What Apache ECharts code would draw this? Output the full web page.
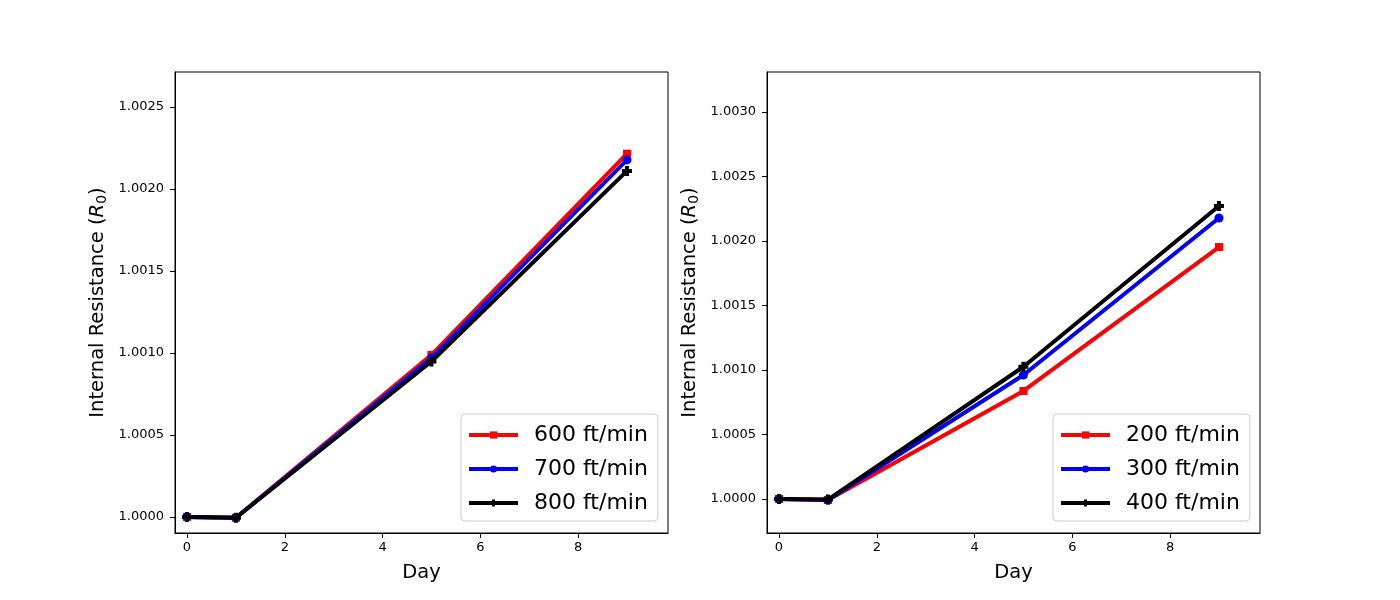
<!DOCTYPE html>
<html><head><meta charset="utf-8">
<script src="https://cdn.jsdelivr.net/npm/echarts@6/dist/echarts.min.js"></script>
<style>html,body{margin:0;padding:0;background:#fff}#c{width:1400px;height:600px}</style>
</head><body><div id="c"></div>
<script>
const days = [0, 1, 5, 9];
const leftNames = ['600 ft/min', '700 ft/min', '800 ft/min'];
const left600 = [1.0000, 0.999995, 1.000988, 1.002215];
const left700 = [1.0000, 0.999995, 1.000970, 1.002177];
const left800 = [1.0000, 0.999995, 1.000948, 1.002110];
const rightNames = ['200 ft/min', '300 ft/min', '400 ft/min'];
const right200 = [1.0000, 0.999992, 1.000837, 1.001953];
const right300 = [1.0000, 0.999992, 1.000961, 1.002178];
const right400 = [1.0000, 0.999995, 1.001025, 1.002271];
const xTicks = [0, 2, 4, 6, 8];
const leftYTicks = [1.0000, 1.0005, 1.0010, 1.0015, 1.0020, 1.0025];
const rightYTicks = [1.0000, 1.0005, 1.0010, 1.0015, 1.0020, 1.0025, 1.0030];

const plusPath = 'path://M3,0h4v3h3v4h-3v3h-4v-3h-3v-4h3z';
const colors = ['#ff0000', '#0000ff', '#000000'];
const symbols = ['rect', 'circle', plusPath];
const symSizes = [8, 9, 10];

function pairs(vals) { return days.map((d, i) => [d, vals[i]]); }

function xAxis(gi) {
  return {
    type: 'value', gridIndex: gi, min: -0.2455, max: 9.84,
    name: 'Day', nameLocation: 'middle', nameGap: 30,
    nameTextStyle: { fontFamily: 'DejaVu Sans', fontSize: 19.5, color: '#000' },
    axisLine: { show: true, onZero: false, lineStyle: { color: '#000', width: 1 } },
    axisTick: { show: true, length: 5, customValues: xTicks, lineStyle: { color: '#000' } },
    axisLabel: { customValues: xTicks, color: '#000', fontFamily: 'DejaVu Sans', fontSize: 13, margin: 8 },
    splitLine: { show: false }
  };
}
function yAxis(gi, min, max, ticks) {
  return {
    type: 'value', gridIndex: gi, min: min, max: max,
    name: '{a|Internal Resistance (}{i|R}{s|0}{a|)}', nameLocation: 'middle', nameGap: 66, nameRotate: 90,
    nameTextStyle: {
      color: '#000',
      rich: {
        a: { fontFamily: 'DejaVu Sans', fontSize: 19.5, color: '#000' },
        i: { fontFamily: 'DejaVu Sans', fontStyle: 'italic', fontSize: 19.5, color: '#000' },
        s: { fontFamily: 'DejaVu Sans', fontSize: 14, color: '#000', verticalAlign: 'bottom', padding: [8, 0, 0, 0] }
      }
    },
    axisLine: { show: true, onZero: false, lineStyle: { color: '#000', width: 1 } },
    axisTick: { show: true, length: 5, customValues: ticks, lineStyle: { color: '#000' } },
    axisLabel: { customValues: ticks, color: '#000', fontFamily: 'DejaVu Sans', fontSize: 13, margin: 11,
      formatter: v => v.toFixed(4) },
    splitLine: { show: false }
  };
}
function mkSeries(names, arrs, gi) {
  return arrs.map((a, k) => ({
    name: names[k], type: 'line', xAxisIndex: gi, yAxisIndex: gi,
    data: pairs(a), symbol: symbols[k], symbolSize: symSizes[k], showSymbol: true,
    lineStyle: { color: colors[k], width: 4 }, itemStyle: { color: colors[k] },
    z: 2 + k, animation: false
  }));
}
function legend(left, names) {
  return {
    data: names, left: left, top: 414, orient: 'vertical',
    backgroundColor: '#fff', borderColor: '#cccccc', borderWidth: 1, borderRadius: 4,
    padding: [9, 10, 6, 6], itemGap: 10, itemWidth: 49, itemHeight: 9,
    lineStyle: { width: 4 },
    textStyle: { fontFamily: 'DejaVu Sans', fontSize: 22, color: '#000', lineHeight: 24, padding: [0, 0, 0, 11] }
  };
}

const chart = echarts.init(document.getElementById('c'));
chart.setOption({
  animation: false,
  grid: [
    { left: 175, top: 72, width: 493, height: 461, show: true, borderColor: '#000', borderWidth: 1, backgroundColor: 'transparent' },
    { left: 767, top: 72, width: 493, height: 461, show: true, borderColor: '#000', borderWidth: 1, backgroundColor: 'transparent' }
  ],
  legend: [legend(461, leftNames), legend(1053, rightNames)],
  xAxis: [xAxis(0), xAxis(1)],
  yAxis: [yAxis(0, 0.999902, 1.002713, leftYTicks), yAxis(1, 0.999736, 1.00331, rightYTicks)],
  series: [].concat(mkSeries(leftNames, [left600, left700, left800], 0),
                    mkSeries(rightNames, [right200, right300, right400], 1))
});
</script></body></html>
